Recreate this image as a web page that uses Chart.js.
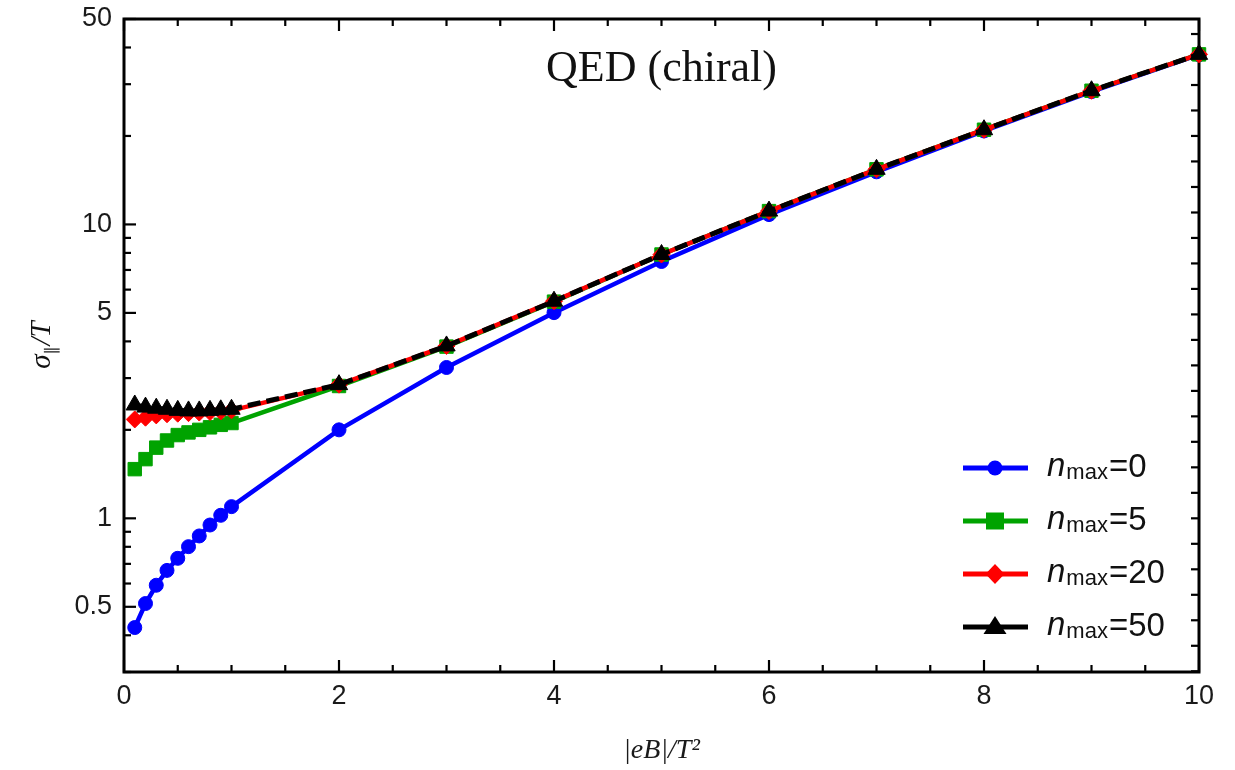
<!DOCTYPE html>
<html><head><meta charset="utf-8">
<script src="https://cdn.jsdelivr.net/npm/chart.js@4.4.0/dist/chart.umd.min.js"></script>
<style>html,body{margin:0;padding:0;background:#fff;}canvas{display:block;}</style>
</head><body>
<canvas id="c" width="1235" height="770"></canvas>
<script>
// ---- data ----
const eB = [0.1,0.2,0.3,0.4,0.5,0.6,0.7,0.8,0.9,1.0,2,3,4,5,6,7,8,9,10];
const sigmaN0  = [0.425,0.513,0.592,0.665,0.731,0.801,0.871,0.949,1.024,1.096,2.00,3.26,5.01,7.48,10.8,15.1,20.8,28.3,37.8];
const sigmaN5  = [1.47,1.59,1.74,1.84,1.92,1.96,2.00,2.04,2.08,2.11,2.82,3.84,5.46,7.9,11.1,15.4,21.0,28.5,37.9];
const sigmaN20 = [2.17,2.20,2.24,2.26,2.27,2.28,2.29,2.30,2.31,2.33,2.85,3.86,5.48,7.9,11.1,15.4,21.0,28.5,37.9];
const sigmaN50 = [2.43,2.39,2.37,2.35,2.33,2.32,2.32,2.33,2.34,2.35,2.85,3.86,5.48,7.9,11.1,15.4,21.0,28.5,37.9];
const seriesNames = ['0','5','20','50'];
const chartTitle = 'QED (chiral)';
const xTickLabels = [0,2,4,6,8,10];
const xMinorTicks = [0.5,1,1.5,2.5,3,3.5,4.5,5,5.5,6.5,7,7.5,8.5,9,9.5];
const yTickLabels = [0.5,1,5,10,50];
const yMinorTicks = [0.3,0.4,0.6,0.7,0.8,0.9,2,3,4,6,7,8,9,20,30,40];
const yRightTicks = [0.3017,0.3684,0.4499,0.5493,0.6707,0.8190,1,1.221,1.491,1.821,2.223,2.714,3.314,4.047,4.941,6.033,7.367,8.995,10.98,13.41,16.38,20.00,24.42,29.81,36.40,44.45];

const colors = ['#0000ff','#00a300','#ff0000','#000000'];
const styles = ['circle','rect','rectRot','triangle'];

function pts(arr){ return eB.map((x,i)=>({x:x,y:arr[i]})); }

const decor = {
  id:'decor',
  beforeDatasetsDraw(chart){
    const ctx = chart.ctx, a = chart.chartArea, xs = chart.scales.x, ys = chart.scales.y;
    ctx.save();
    ctx.strokeStyle = '#000';
    ctx.lineWidth = 2.2;
    ctx.lineCap = 'butt';
    function seg(x1,y1,x2,y2){ ctx.beginPath(); ctx.moveTo(x1,y1); ctx.lineTo(x2,y2); ctx.stroke(); }
    xTickLabels.forEach(v=>{ const p = xs.getPixelForValue(v); seg(p,a.bottom,p,a.bottom-12); seg(p,a.top,p,a.top+12); });
    xMinorTicks.forEach(v=>{ const p = xs.getPixelForValue(v); seg(p,a.bottom,p,a.bottom-7); seg(p,a.top,p,a.top+7); });
    yTickLabels.forEach(v=>{ const p = ys.getPixelForValue(v); seg(a.left,p,a.left+12,p); });
    yMinorTicks.forEach(v=>{ const p = ys.getPixelForValue(v); seg(a.left,p,a.left+7,p); });
    yRightTicks.forEach(v=>{ const p = ys.getPixelForValue(v); seg(a.right,p,a.right-8,p); });
    ctx.lineWidth = 3;
    ctx.strokeRect(a.left, a.top, a.right-a.left, a.bottom-a.top);
    ctx.restore();
  },
  afterDraw(chart){
    const ctx = chart.ctx, a = chart.chartArea;
    ctx.save();
    // title inside plot
    ctx.fillStyle = '#111';
    ctx.font = '44px "Liberation Serif", serif';
    ctx.textAlign = 'center';
    ctx.textBaseline = 'alphabetic';
    ctx.fillText(chartTitle, (a.left+a.right)/2, a.top + 62);

    // y axis title (rotated)
    ctx.save();
    ctx.translate(50, (a.top+a.bottom)/2);
    ctx.rotate(-Math.PI/2);
    ctx.textAlign = 'left';
    const p1 = '\u03C3', p2 = '\u2225', p3 = '/T';
    ctx.font = 'italic 29px "Liberation Serif", serif';
    const w1 = ctx.measureText(p1).width;
    ctx.font = '16px "DejaVu Sans", sans-serif';
    const w2 = ctx.measureText(p2).width;
    ctx.font = 'italic 29px "Liberation Serif", serif';
    const w3 = ctx.measureText(p3).width;
    let x0 = -(w1+w2+w3)/2;
    ctx.fillText(p1, x0, 0);
    ctx.font = '16px "DejaVu Sans", sans-serif';
    ctx.fillText(p2, x0+w1, 6);
    ctx.font = 'italic 29px "Liberation Serif", serif';
    ctx.fillText(p3, x0+w1+w2+1, 0);
    ctx.restore();

    // legend
    const lx1 = a.right - 236, lx2 = a.right - 171, mx = a.right - 204, tx = a.right - 152;
    const rowY0 = a.bottom - 204, rowStep = 53;
    for (let i=0;i<4;i++){
      const cy = rowY0 + i*rowStep;
      ctx.strokeStyle = colors[i]; ctx.fillStyle = colors[i];
      ctx.lineWidth = 5;
      ctx.beginPath(); ctx.moveTo(lx1, cy); ctx.lineTo(lx2, cy); ctx.stroke();
      ctx.beginPath();
      if (styles[i]==='circle'){ ctx.arc(mx, cy, 7.5, 0, Math.PI*2); }
      else if (styles[i]==='rect'){ ctx.rect(mx-9, cy-8.5, 18, 17); }
      else if (styles[i]==='rectRot'){ ctx.moveTo(mx, cy-10); ctx.lineTo(mx+9.5, cy); ctx.lineTo(mx, cy+10); ctx.lineTo(mx-9.5, cy); ctx.closePath(); }
      else { ctx.moveTo(mx, cy-11); ctx.lineTo(mx+11.5, cy+7); ctx.lineTo(mx-11.5, cy+7); ctx.closePath(); }
      ctx.fill();
      ctx.fillStyle = '#111';
      ctx.textAlign = 'left';
      ctx.font = 'italic 33px "Liberation Sans", Arial, sans-serif';
      ctx.fillText('n', tx, cy+8);
      let xx = tx + ctx.measureText('n').width + 1;
      ctx.font = '22px "Liberation Sans", Arial, sans-serif';
      ctx.fillText('max', xx, cy+11);
      xx += ctx.measureText('max').width + 1;
      ctx.font = '33px "Liberation Sans", Arial, sans-serif';
      ctx.fillText('=' + seriesNames[i], xx, cy+9);
    }
    ctx.restore();
  }
};

const ds = (i, arr, extra) => Object.assign({
  label: 'n_max=' + seriesNames[i],
  data: pts(arr),
  borderColor: colors[i],
  backgroundColor: colors[i],
  pointBackgroundColor: colors[i],
  pointBorderColor: colors[i],
  pointBorderWidth: 1,
  pointStyle: styles[i],
  borderWidth: 4.5,
  tension: 0,
  clip: false
}, extra);

new Chart(document.getElementById('c').getContext('2d'), {
  type: 'line',
  data: {
    datasets: [
      ds(3, sigmaN50, {order:0, borderWidth:5, borderDash:[13,6], pointRadius:10}),
      ds(2, sigmaN20, {order:1, pointRadius:8.5}),
      ds(1, sigmaN5,  {order:2, pointRadius:9.5}),
      ds(0, sigmaN0,  {order:3, pointRadius:7})
    ]
  },
  options: {
    responsive: false,
    animation: false,
    devicePixelRatio: 1,
    layout: { padding: { top: 19, right: 36, left: 0, bottom: 0 } },
    plugins: { legend: { display: false }, tooltip: { enabled: false } },
    scales: {
      x: {
        type: 'linear', min: 0, max: 10,
        afterBuildTicks: s => { s.ticks = xTickLabels.map(v => ({ value: v })); },
        afterFit: s => { s.height = 98; s.paddingLeft = 0; s.paddingRight = 0; },
        grid: { display: false, drawTicks: false },
        border: { display: false },
        ticks: {
          autoSkip: false, maxRotation: 0, padding: 8, color: '#1a1a1a',
          font: { family: '"Liberation Sans", Arial, sans-serif', size: 27 },
          callback: v => String(v)
        },
        title: {
          display: true, text: '|eB|/T\u00B2', color: '#1a1a1a',
          font: { family: '"Liberation Serif", serif', style: 'italic', size: 28 },
          padding: { top: 0, bottom: 3 }
        }
      },
      y: {
        type: 'logarithmic', min: 0.3, max: 50,
        afterBuildTicks: s => { s.ticks = yTickLabels.map(v => ({ value: v })); },
        afterFit: s => { s.width = 124; s.paddingTop = 0; s.paddingBottom = 0; },
        grid: { display: false, drawTicks: false },
        border: { display: false },
        ticks: {
          autoSkip: false, padding: 12, color: '#1a1a1a',
          font: { family: '"Liberation Sans", Arial, sans-serif', size: 27 },
          callback: v => String(v)
        }
      }
    }
  },
  plugins: [decor]
});
</script>
</body></html>
